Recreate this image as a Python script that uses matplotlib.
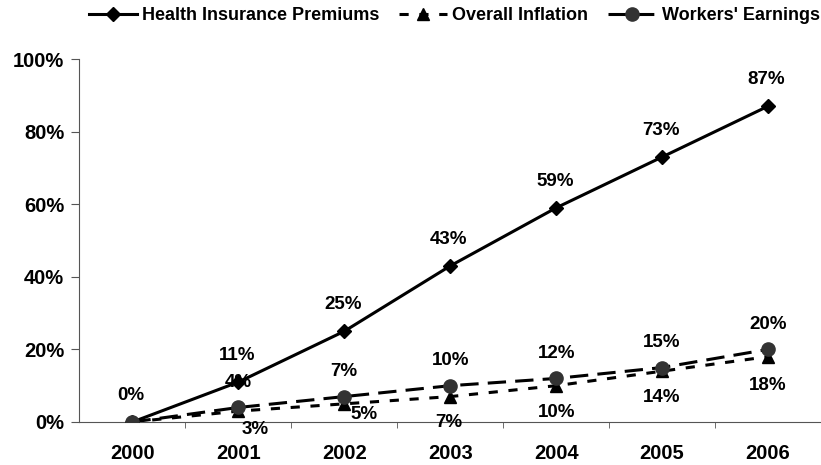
import matplotlib.pyplot as plt
import numpy as np

plt.rcParams['font.family'] = ['Liberation Sans', 'DejaVu Sans']
plt.rcParams['font.weight'] = 'bold'

years = ["2000", "2001", "2002", "2003", "2004", "2005", "2006"]
health = [0, 11, 25, 43, 59, 73, 87]
inflation = [0, 3, 5, 7, 10, 14, 18]
earnings = [0, 4, 7, 10, 12, 15, 20]

fig = plt.figure(figsize=(8.21, 4.65), dpi=100)
ax = fig.add_axes([0.0968, 0.0925, 0.9032, 0.7806])

x = np.arange(len(years))

ax.plot(x, health, color="black", lw=2.2, marker="D", ms=7.5,
        label="Health Insurance Premiums", zorder=3)
ax.plot(x, inflation, color="black", lw=2.2, marker="^", ms=9,
        dashes=(3, 3.5), label="Overall Inflation", zorder=4)
ax.plot(x, earnings, color="black", lw=2.2, marker="o", ms=9.5,
        markerfacecolor="#333333", markeredgecolor="#333333",
        dashes=(6, 3), label="Workers' Earnings", zorder=5)

lab = dict(textcoords="offset points", ha="center", va="center",
           fontsize=13.5, fontweight="bold")

# data labels
for i, v in enumerate(health):
    ax.annotate(f"{v}%", (x[i], v), xytext=(-1, 19), **lab)
for i, v in enumerate(earnings):
    if i == 0:
        continue
    ax.annotate(f"{v}%", (x[i], v), xytext=(0, 18), **lab)
infl_off = [(0, 0), (12, -13), (14, -8), (-1, -19), (0, -19), (0, -19), (0, -21)]
for i, v in enumerate(inflation):
    if i == 0:
        continue
    ax.annotate(f"{v}%", (x[i], v), xytext=infl_off[i], **lab)

ax.set_xlim(-0.5, 6.5)
ax.set_ylim(0, 100)
ax.set_yticks([0, 20, 40, 60, 80, 100])
ax.set_yticklabels([f"{t}%" for t in [0, 20, 40, 60, 80, 100]], fontsize=14.5, fontweight="bold")
ax.set_xticks(x)
ax.set_xticklabels(years, fontsize=14.5, fontweight="bold")
ax.tick_params(axis="x", which="major", length=0, pad=16)
ax.set_xticks(np.arange(0.5, 6.5, 1), minor=True)
ax.tick_params(axis="x", which="minor", length=4, direction="out", color="#555555")
ax.tick_params(axis="y", length=6, direction="out", color="#555555", pad=5)

for s in ["top", "right"]:
    ax.spines[s].set_visible(False)
ax.spines["left"].set_color("#555555")
ax.spines["bottom"].set_color("#555555")

fig.legend(loc="center left", bbox_to_anchor=(0.108, 1 - 16 / 465), ncol=3, frameon=False,
           prop={"size": 13, "weight": "bold"}, handlelength=2.65, handletextpad=0.3,
           columnspacing=1.1, borderpad=0, borderaxespad=0)

fig.savefig("out.png", dpi=100)
